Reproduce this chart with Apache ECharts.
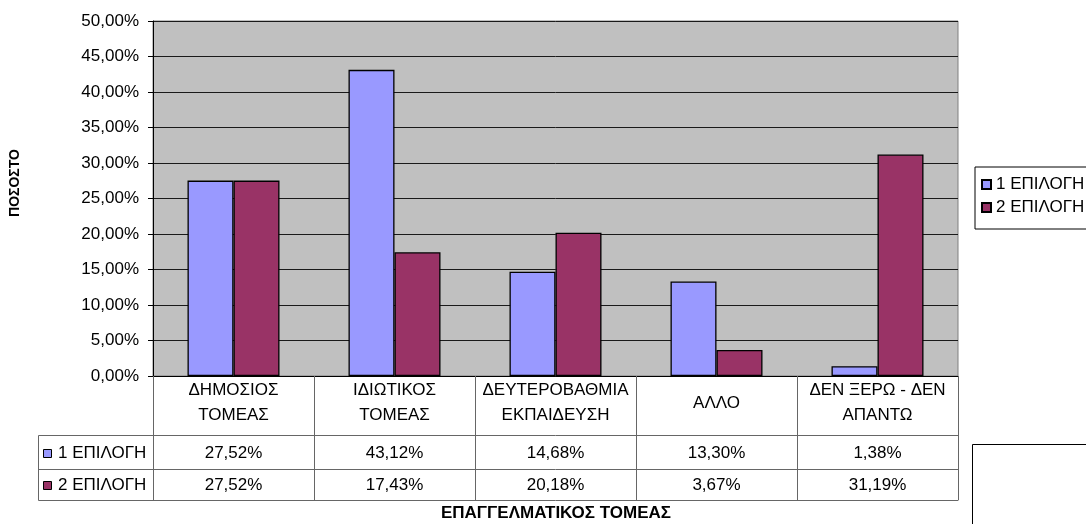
<!DOCTYPE html>
<html>
<head>
<meta charset="utf-8">
<script src="https://cdn.jsdelivr.net/npm/echarts@6/dist/echarts.min.js"></script>
<style>
html,body{margin:0;padding:0;background:#fff;}
#c{width:1086px;height:524px;}
</style>
</head>
<body>
<div id="c"></div>
<script>
const categories = ['ΔΗΜΟΣΙΟΣ\nΤΟΜΕΑΣ', 'ΙΔΙΩΤΙΚΟΣ\nΤΟΜΕΑΣ', 'ΔΕΥΤΕΡΟΒΑΘΜΙΑ\nΕΚΠΑΙΔΕΥΣΗ', 'ΑΛΛΟ', 'ΔΕΝ ΞΕΡΩ - ΔΕΝ\nΑΠΑΝΤΩ'];
const seriesNames = ['1 ΕΠΙΛΟΓΗ', '2 ΕΠΙΛΟΓΗ'];
const choice1 = [27.52, 43.12, 14.68, 13.30, 1.38];
const choice2 = [27.52, 17.43, 20.18, 3.67, 31.19];
const yAxisTitle = 'ΠΟΣΟΣΤΟ';
const xAxisTitle = 'ΕΠΑΓΓΕΛΜΑΤΙΚΟΣ ΤΟΜΕΑΣ';
const colors = ['#9999ff', '#993366'];

const FONT = 'Arial, "Liberation Sans", sans-serif';
const TABLE = '#666666';
const fmt = v => v.toFixed(2).replace('.', ',') + '%';

const chart = echarts.init(document.getElementById('c'), null, {renderer: 'canvas'});

const baseX = {
  type: 'category',
  position: 'bottom',
  gridIndex: 0,
  boundaryGap: true,
  splitLine: {show: false}
};

const option = {
  animation: false,
  backgroundColor: '#ffffff',
  textStyle: {fontFamily: FONT},
  grid: {
    left: 153, right: 128, top: 21, bottom: 148,
    show: true, backgroundColor: '#c0c0c0', borderColor: '#808080', borderWidth: 1
  },
  legend: {
    orient: 'vertical',
    left: 975, top: 167,
    padding: [9, 20, 13, 6],
    itemWidth: 9, itemHeight: 9, itemGap: 6,
    borderColor: '#000', borderWidth: 1,
    icon: 'rect',
    data: seriesNames,
    textStyle: {fontFamily: FONT, fontSize: 17, color: '#000'}
  },
  yAxis: {
    type: 'value', min: 0, max: 50, interval: 5,
    axisLine: {show: true, lineStyle: {color: '#000'}},
    axisTick: {show: true, length: 5, lineStyle: {color: '#000'}},
    axisLabel: {fontSize: 17, color: '#000', fontFamily: FONT, margin: 14,
      formatter: v => fmt(v)},
    splitLine: {show: true, lineStyle: {color: '#1a1a1a', width: 1}}
  },
  xAxis: [
    Object.assign({}, baseX, {
      data: categories,
      axisLine: {show: true, lineStyle: {color: '#000'}},
      axisTick: {show: true, length: 59, interval: 0, lineStyle: {color: TABLE}},
      axisLabel: {interval: 0, fontSize: 17, color: '#000', fontFamily: FONT,
        lineHeight: 25, verticalAlign: 'middle', margin: 27, align: 'center'}
    }),
    Object.assign({}, baseX, {
      data: choice1.map(fmt),
      offset: 59,
      axisLine: {show: true, lineStyle: {color: TABLE}},
      axisTick: {show: true, length: 34, interval: 0, lineStyle: {color: TABLE}},
      axisLabel: {interval: 0, fontSize: 17, color: '#000', fontFamily: FONT,
        verticalAlign: 'middle', margin: 18}
    }),
    Object.assign({}, baseX, {
      data: choice2.map(fmt),
      offset: 93,
      axisLine: {show: true, lineStyle: {color: TABLE}},
      axisTick: {show: true, length: 31, interval: 0, lineStyle: {color: TABLE}},
      axisLabel: {interval: 0, fontSize: 17, color: '#000', fontFamily: FONT,
        verticalAlign: 'middle', margin: 16}
    }),
    Object.assign({}, baseX, {
      data: categories,
      offset: 124,
      axisLine: {show: true, lineStyle: {color: TABLE}},
      axisTick: {show: false},
      axisLabel: {show: false}
    })
  ],
  series: [
    {
      name: seriesNames[0], type: 'bar', xAxisIndex: 0, yAxisIndex: 0,
      data: choice1, barWidth: 46, barGap: '0%',
      itemStyle: {color: colors[0], borderColor: '#000', borderWidth: 1.3}
    },
    {
      name: seriesNames[1], type: 'bar', xAxisIndex: 0, yAxisIndex: 0,
      data: choice2, barWidth: 46, barGap: '0%',
      itemStyle: {color: colors[1], borderColor: '#000', borderWidth: 1.3}
    }
  ],
  graphic: [
    // left key column of the data table
    {type: 'rect', shape: {x: 38.5, y: 435.5, width: 115, height: 65},
      style: {fill: 'none', stroke: TABLE, lineWidth: 1}, silent: true},
    {type: 'line', shape: {x1: 38.5, y1: 469.5, x2: 153.5, y2: 469.5},
      style: {stroke: TABLE, lineWidth: 1}, silent: true},
    {type: 'rect', shape: {x: 43.5, y: 449.5, width: 8, height: 8},
      style: {fill: colors[0], stroke: '#000', lineWidth: 1}, silent: true},
    {type: 'rect', shape: {x: 43.5, y: 481.5, width: 8, height: 8},
      style: {fill: colors[1], stroke: '#000', lineWidth: 1}, silent: true},
    {type: 'text', x: 58, y: 453,
      style: {text: seriesNames[0], font: '17px ' + FONT, fill: '#000', verticalAlign: 'middle'}},
    {type: 'text', x: 58, y: 485,
      style: {text: seriesNames[1], font: '17px ' + FONT, fill: '#000', verticalAlign: 'middle'}},
    // axis titles
    {type: 'text', x: 556, y: 513,
      style: {text: xAxisTitle, font: 'bold 17px ' + FONT, fill: '#000', align: 'center', verticalAlign: 'middle'}},
    {type: 'text', x: 15, y: 183, rotation: Math.PI / 2,
      style: {text: yAxisTitle, font: 'bold 14px ' + FONT, fill: '#000', align: 'center', verticalAlign: 'middle'}},
    // empty box bottom right
    {type: 'rect', shape: {x: 972.5, y: 444.5, width: 200, height: 200},
      style: {fill: 'none', stroke: '#000', lineWidth: 1}, silent: true}
  ]
};
chart.setOption(option);
</script>
</body>
</html>
